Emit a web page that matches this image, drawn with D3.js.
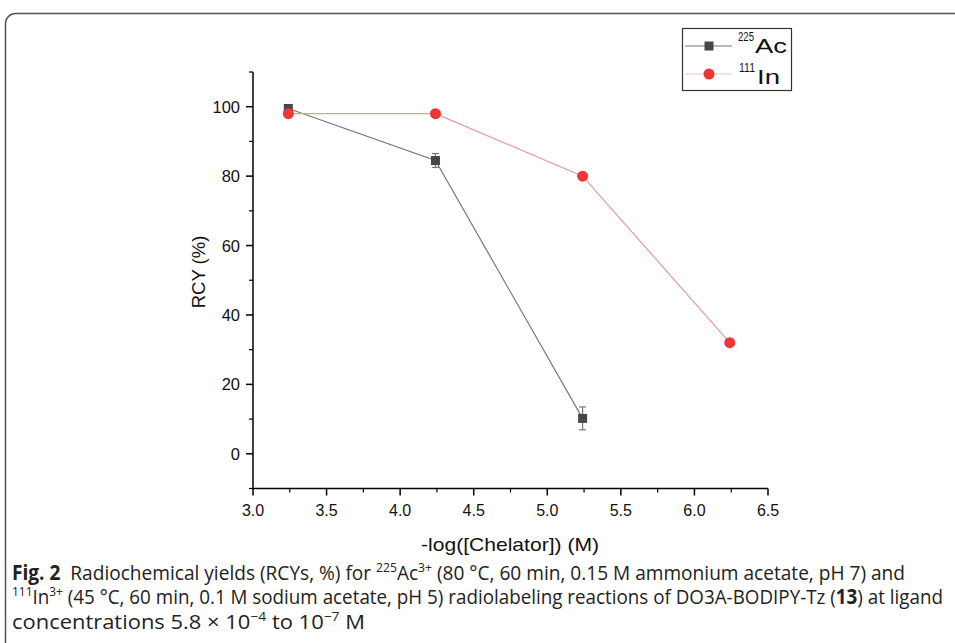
<!DOCTYPE html>
<html>
<head>
<meta charset="utf-8">
<script src="https://cdn.jsdelivr.net/npm/d3@7"></script>
<style>
  body { margin: 0; background: #fff; }
  svg { display: block; }
</style>
</head>
<body>
<div id="chart"></div>
<script>
const width = 955;
const height = 643;

// data
const xVals = [3.24, 4.24, 5.24, 6.24];
const acRCY = [99.5, 84.5, 10.2];
const acErr = [0.5, 2.0, 3.3];
const inRCY = [98, 98, 80, 32];
const xTicks = [3.0, 3.5, 4.0, 4.5, 5.0, 5.5, 6.0, 6.5];
const yTicks = [0, 20, 40, 60, 80, 100];

const svg = d3
	.select("#chart")
	.append("svg")
	.attr("width", width)
	.attr("height", height);

// figure frame (rounded, runs off the right and bottom)
svg.append("rect")
	.attr("x", 5.5)
	.attr("y", 13.5)
	.attr("width", 1000)
	.attr("height", 700)
	.attr("rx", 10)
	.style("fill", "none")
	.style("stroke", "#555")
	.style("stroke-width", 1.5);

const x = d3.scaleLinear().domain([3, 6.5]).range([253, 768]);
const y = d3.scaleLinear().domain([-10, 110]).range([488.5, 72]);

const fontChart = "'Liberation Sans', Arial, sans-serif";
const y0 = y(-10);

// x axis
const xAxis = svg.append("g").attr("transform", `translate(0,${y0})`);
xAxis.append("line")
	.attr("x1", x(3)).attr("x2", x(6.5))
	.style("stroke", "#000").style("stroke-width", 1.5);
xAxis.selectAll(".minor")
	.data(d3.range(3.25, 6.5, 0.5))
	.join("line")
	.attr("x1", d => x(d)).attr("x2", d => x(d))
	.attr("y1", 0).attr("y2", 4)
	.style("stroke", "#000").style("stroke-width", 1.2);
xAxis.selectAll(".major")
	.data(xTicks)
	.join("line")
	.attr("x1", d => x(d)).attr("x2", d => x(d))
	.attr("y1", 0).attr("y2", 7)
	.style("stroke", "#000").style("stroke-width", 1.5);
xAxis.selectAll("text")
	.data(xTicks)
	.join("text")
	.attr("x", d => x(d))
	.attr("y", 27)
	.attr("text-anchor", "middle")
	.style("font-family", fontChart)
	.style("font-size", "16px")
	.style("fill", "#111")
	.text(d => d.toFixed(1));

// y axis
const yAxis = svg.append("g").attr("transform", "translate(253,0)");
yAxis.append("line")
	.attr("y1", y(-10)).attr("y2", y(110))
	.style("stroke", "#000").style("stroke-width", 1.5);
yAxis.selectAll(".minor")
	.data([-10, 10, 30, 50, 70, 90, 110])
	.join("line")
	.attr("y1", d => y(d)).attr("y2", d => y(d))
	.attr("x1", 0).attr("x2", -4)
	.style("stroke", "#000").style("stroke-width", 1.2);
yAxis.selectAll(".major")
	.data(yTicks)
	.join("line")
	.attr("y1", d => y(d)).attr("y2", d => y(d))
	.attr("x1", 0).attr("x2", -7)
	.style("stroke", "#000").style("stroke-width", 1.5);
yAxis.selectAll("text")
	.data(yTicks)
	.join("text")
	.attr("x", -13)
	.attr("y", d => y(d) + 6)
	.attr("text-anchor", "end")
	.style("font-family", fontChart)
	.style("font-size", "16.5px")
	.style("fill", "#111")
	.text(d => d);

// axis titles
svg.append("text")
	.attr("transform", "translate(205,272) rotate(-90)")
	.attr("text-anchor", "middle")
	.style("font-family", fontChart)
	.style("font-size", "18.5px")
	.style("fill", "#111")
	.text("RCY (%)");
svg.append("text")
	.attr("x", 421)
	.attr("y", 551)
	.attr("textLength", 178)
	.attr("lengthAdjust", "spacingAndGlyphs")
	.style("font-family", fontChart)
	.style("font-size", "19px")
	.style("fill", "#111")
	.text("-log([Chelator]) (M)");

// series
const acData = acRCY.map((v, i) => ({ x: xVals[i], y: v, e: acErr[i] }));
const inData = inRCY.map((v, i) => ({ x: xVals[i], y: v }));
const line = d3.line().x(d => x(d.x)).y(d => y(d.y));

svg.append("path")
	.datum(acData)
	.attr("d", line)
	.style("fill", "none")
	.style("stroke", "#777")
	.style("stroke-width", 1.2);

const err = svg.selectAll(".err").data(acData).join("g").style("stroke", "#777").style("stroke-width", 1.2);
err.append("line")
	.attr("x1", d => x(d.x)).attr("x2", d => x(d.x))
	.attr("y1", d => y(d.y + d.e)).attr("y2", d => y(d.y - d.e));
err.append("line")
	.attr("x1", d => x(d.x) - 3.5).attr("x2", d => x(d.x) + 3.5)
	.attr("y1", d => y(d.y - d.e)).attr("y2", d => y(d.y - d.e));
err.append("line")
	.attr("x1", d => x(d.x) - 3.5).attr("x2", d => x(d.x) + 3.5)
	.attr("y1", d => y(d.y + d.e)).attr("y2", d => y(d.y + d.e));

svg.selectAll(".sq")
	.data(acData)
	.join("rect")
	.attr("x", d => x(d.x) - 4.5)
	.attr("y", d => y(d.y) - 4.5)
	.attr("width", 9)
	.attr("height", 9)
	.style("fill", "#474747");

svg.append("path")
	.datum(inData)
	.attr("d", line)
	.style("fill", "none")
	.style("stroke", "#e49a9a")
	.style("stroke-width", 1.2);

svg.selectAll(".dot")
	.data(inData)
	.join("circle")
	.attr("cx", d => x(d.x))
	.attr("cy", d => y(d.y))
	.attr("r", 5.5)
	.style("fill", "#ee3636");

// legend
const legend = svg.append("g");
legend.append("rect")
	.attr("x", 682.5).attr("y", 28.5)
	.attr("width", 109).attr("height", 62)
	.style("fill", "#fff")
	.style("stroke", "#333")
	.style("stroke-width", 1.2);
legend.append("line")
	.attr("x1", 685).attr("x2", 732).attr("y1", 46).attr("y2", 46)
	.style("stroke", "#777").style("stroke-width", 1.2);
legend.append("rect")
	.attr("x", 704.5).attr("y", 41.5).attr("width", 9).attr("height", 9)
	.style("fill", "#474747");
legend.append("line")
	.attr("x1", 685).attr("x2", 732).attr("y1", 74).attr("y2", 74)
	.style("stroke", "#f2c4c4").style("stroke-width", 1.2);
legend.append("circle")
	.attr("cx", 709).attr("cy", 74).attr("r", 5.5)
	.style("fill", "#ee3636");

const legendItems = [
	{ iso: "225", el: "Ac", xi: 738, xe: 755, ye: 53, wi: 16, we: 32 },
	{ iso: "111", el: "In", xi: 739, xe: 757, ye: 84, wi: 16, we: 23 }
];
legendItems.forEach(d => {
	legend.append("text")
		.attr("x", d.xi).attr("y", d.ye - 12)
		.attr("textLength", d.wi).attr("lengthAdjust", "spacingAndGlyphs")
		.style("font-family", fontChart).style("font-size", "12.5px").style("fill", "#111")
		.text(d.iso);
	legend.append("text")
		.attr("x", d.xe).attr("y", d.ye)
		.attr("textLength", d.we).attr("lengthAdjust", "spacingAndGlyphs")
		.style("font-family", fontChart).style("font-size", "21px").style("fill", "#111")
		.text(d.el);
});

// caption: each run is its own text, squeezed to the line width
const fontCap = "'Open Sans', 'Noto Sans', sans-serif";
const capLines = [
	{ y: 580, len: 893, parts: [
		{ t: "Fig. 2", b: true }, { t: "  Radiochemical yields (RCYs, %) for " },
		{ t: "225", sup: true }, { t: "Ac" }, { t: "3+", sup: true },
		{ t: " (80 °C, 60 min, 0.15 M ammonium acetate, pH 7) and" }] },
	{ y: 604, len: 931, parts: [
		{ t: "111", sup: true }, { t: "In" }, { t: "3+", sup: true },
		{ t: " (45 °C, 60 min, 0.1 M sodium acetate, pH 5) radiolabeling reactions of DO3A-BODIPY-Tz (" },
		{ t: "13", b: true }, { t: ") at ligand" }] },
	{ y: 629, len: 353, parts: [
		{ t: "concentrations 5.8 × 10" }, { t: "−4", sup: true }, { t: " to 10" },
		{ t: "−7", sup: true }, { t: " M" }] }
];
capLines.forEach(l => {
	const runs = l.parts.map(p => {
		const t = svg.append("text")
			.attr("y", p.sup ? l.y - 8 : l.y)
			.style("white-space", "pre")
			.style("font-family", fontCap)
			.style("font-size", p.sup ? "13px" : "20.5px")
			.style("font-weight", p.b ? "bold" : "normal")
			.style("fill", "#222")
			.text(p.t);
		return { t, w: t.node().getComputedTextLength() };
	});
	const total = d3.sum(runs, r => r.w);
	const sx = l.len / total;
	let cx = 12;
	runs.forEach(r => {
		r.t.attr("x", cx)
			.attr("textLength", r.w * sx)
			.attr("lengthAdjust", "spacingAndGlyphs");
		cx += r.w * sx;
	});
});
</script>
</body>
</html>
